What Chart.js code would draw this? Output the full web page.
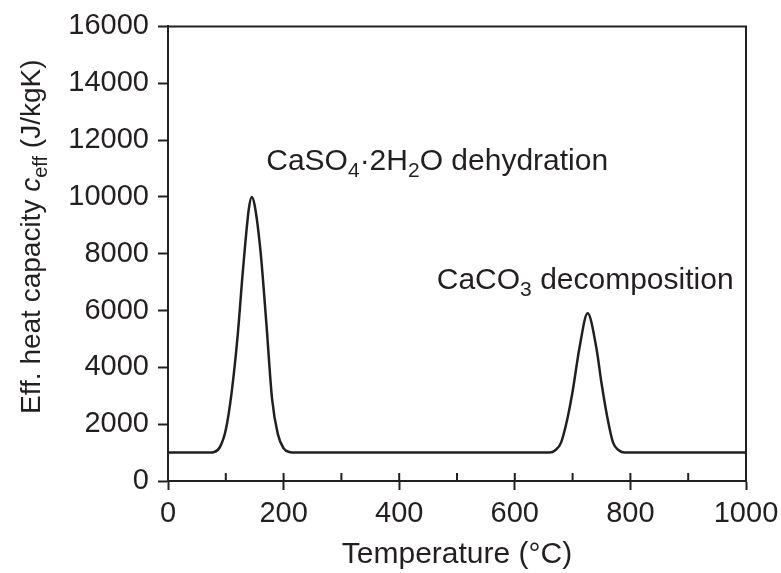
<!DOCTYPE html>
<html>
<head>
<meta charset="utf-8">
<script src="https://cdn.jsdelivr.net/npm/chart.js@4/dist/chart.umd.min.js"></script>
<style>
  html, body { margin: 0; padding: 0; background: #fff; }
  #wrap { width: 781px; height: 573px; }
</style>
</head>
<body>
<div id="wrap"><canvas id="heatChart" width="781" height="573"></canvas></div>
<script>
// 数据：温度 (°C) 与有效热容 (J/kgK)
const temperature = [0, 50, 70, 80, 90, 100, 110, 120, 130, 140, 145, 150, 160, 170, 180, 190, 200, 210, 220,
  300, 400, 500, 600, 650, 660, 670, 680, 690, 700, 712, 726, 741, 750, 760, 770, 780, 790, 800, 900, 1000];
const cEff = [1000, 1000, 1000, 1020, 1200, 1800, 3100, 5000, 7500, 9600, 10000, 9700, 8100, 5600, 2900, 1650, 1150, 1020, 1000,
  1000, 1000, 1000, 1000, 1000, 1000, 1080, 1350, 2100, 3150, 4700, 5900, 4700, 3450, 2250, 1350, 1080, 1000, 1000, 1000, 1000];

const xTicksMajor = [0, 200, 400, 600, 800, 1000];
const xTicksInner = [0, 100, 200, 300, 400, 500, 600, 700, 800, 900, 1000];
const yTicks = [0, 2000, 4000, 6000, 8000, 10000, 12000, 14000, 16000];

// 标注：文本片段 [文字, 类型]，n=正常 s=下标 i=斜体
const labelParts = [
  [['CaSO', 'n'], ['4', 's'], ['\u00B72H', 'n'], ['2', 's'], ['O dehydration', 'n']],
  [['CaCO', 'n'], ['3', 's'], [' decomposition', 'n']]
];
const labelTemp = [170, 465];
const labelCeff = [10950, 6750];
const yTitleParts = [['Eff. heat capacity ', 'n'], ['c', 'i'], ['eff', 's'], [' (J/kgK)', 'n']];

const INK = '#231f20';
const FONT = '"Liberation Sans", Arial, Helvetica, sans-serif';

/**
 * 绘制带下标/斜体的文字，返回宽度
 */
function drawRich(ctx, parts, x, y, size, draw) {
  const subSize = Math.round(size * 0.7);
  let cx = x;
  parts.forEach(([text, kind]) => {
    if (kind === 's') ctx.font = `${subSize}px ${FONT}`;
    else if (kind === 'i') ctx.font = `italic ${size}px ${FONT}`;
    else ctx.font = `${size}px ${FONT}`;
    const dy = kind === 's' ? size * 0.24 : 0;
    if (draw) ctx.fillText(text, cx, y + dy);
    cx += ctx.measureText(text).width;
  });
  return cx - x;
}

/**
 * 边框、内向刻度、标注和 y 轴标题
 */
const decorPlugin = {
  id: 'decor',
  afterDraw(chart) {
    const { ctx, chartArea: a, scales: { x, y } } = chart;
    ctx.save();
    ctx.strokeStyle = INK;
    ctx.lineWidth = 2;
    ctx.beginPath();
    ctx.moveTo(a.left - 1, a.top);
    ctx.lineTo(a.right, a.top);
    ctx.lineTo(a.right, a.bottom);
    xTicksInner.forEach(t => {
      const px = x.getPixelForValue(t);
      ctx.moveTo(px, a.bottom);
      ctx.lineTo(px, a.bottom - 8);
    });
    ctx.stroke();

    ctx.fillStyle = INK;
    ctx.textBaseline = 'alphabetic';
    ctx.textAlign = 'left';
    labelParts.forEach((parts, i) => {
      drawRich(ctx, parts, x.getPixelForValue(labelTemp[i]), y.getPixelForValue(labelCeff[i]), 30, true);
    });

    // y 轴标题（旋转）
    const size = 28;
    const w = drawRich(ctx, yTitleParts, 0, 0, size, false);
    ctx.translate(40, (a.top + a.bottom) / 2 - 17);
    ctx.rotate(-Math.PI / 2);
    drawRich(ctx, yTitleParts, -w / 2, 0, size, true);
    ctx.restore();
  }
};

const ctx = document.getElementById('heatChart').getContext('2d');
new Chart(ctx, {
  type: 'line',
  data: {
    datasets: [{
      data: temperature.map((t, i) => ({ x: t, y: cEff[i] })),
      borderColor: INK,
      borderWidth: 2.5,
      pointRadius: 0,
      fill: false,
      cubicInterpolationMode: 'monotone'
    }]
  },
  options: {
    responsive: false,
    animation: false,
    layout: { padding: { top: 22, right: 35, left: 0, bottom: 0 } },
    plugins: { legend: { display: false }, tooltip: { enabled: false } },
    scales: {
      x: {
        type: 'linear',
        min: 0,
        max: 1000,
        afterBuildTicks: s => { s.ticks = xTicksMajor.map(v => ({ value: v })); },
        afterFit: s => { s.height = 92; s.paddingRight = 0; },
        grid: { drawOnChartArea: false, drawTicks: true, tickLength: 9, tickWidth: 2, tickColor: INK },
        border: { display: true, color: INK, width: 2 },
        ticks: { color: INK, font: { family: FONT, size: 29 }, padding: 7, maxRotation: 0, autoSkip: false, callback: v => String(v) },
        title: { display: true, text: 'Temperature (\u00B0C)', color: INK, font: { family: FONT, size: 30 }, padding: { top: 0, bottom: 0 } }
      },
      y: {
        min: 0,
        max: 16000,
        afterBuildTicks: s => { s.ticks = yTicks.map(v => ({ value: v })); },
        afterFit: s => { s.width = 168; },
        grid: { drawOnChartArea: false, drawTicks: true, tickLength: 10, tickWidth: 2, tickColor: INK },
        border: { display: true, color: INK, width: 2 },
        ticks: { color: INK, font: { family: FONT, size: 29 }, padding: 9, callback: v => String(v) }
      }
    }
  },
  plugins: [decorPlugin]
});
</script>
</body>
</html>
